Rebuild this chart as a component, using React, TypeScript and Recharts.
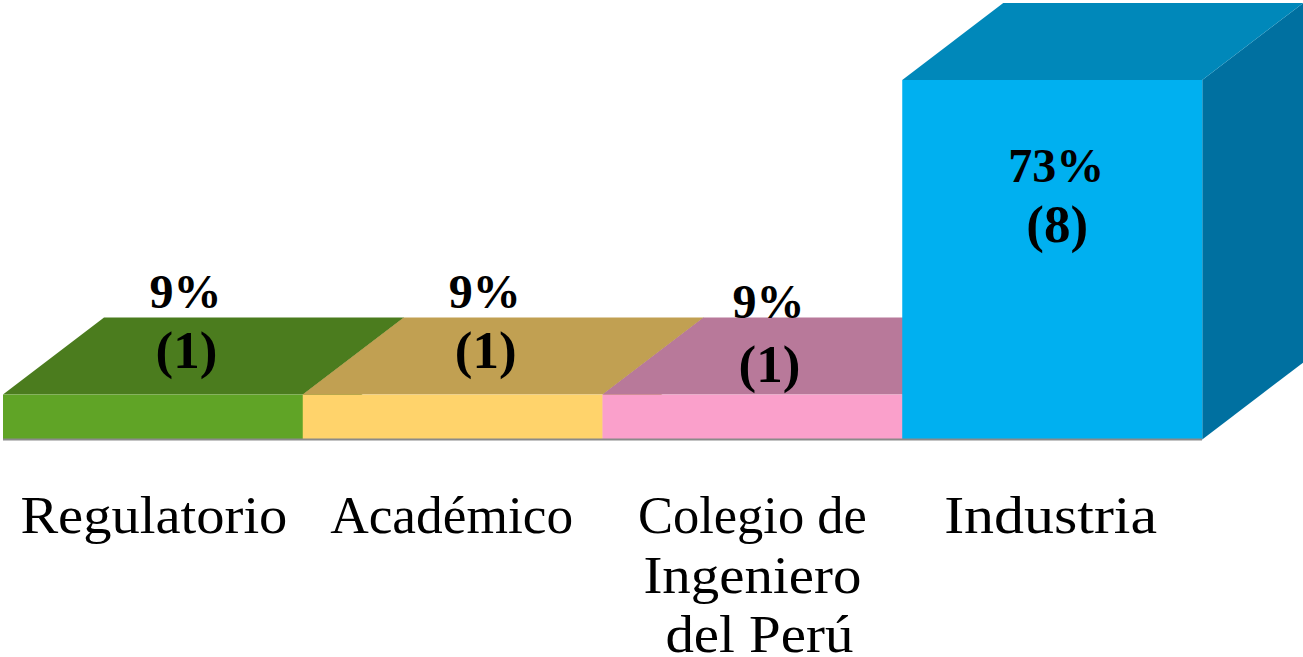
import React from "react";
import { BarChart, Bar, XAxis, YAxis, Cell, LabelList } from "recharts";

const categories = ["Regulatorio", "Académico", "Colegio de\nIngeniero\ndel Perú", "Industria"];
const counts = [1, 1, 1, 8];
const percents = ["9%", "9%", "9%", "73%"];
const frontColors = ["#60A426", "#FFD36B", "#FAA0CB", "#00B0F0"];
const topColors = ["#4B7C1E", "#C1A052", "#B8799A", "#0088BA"];
const sideColors = ["#3F6A18", "#A58A45", "#9C6783", "#0070A0"];

const rows = categories.map((name, i) => ({
  name,
  count: counts[i],
  percent: percents[i],
}));

const DX = 101;
const DY = 77;
const FONT = "'Liberation Serif', serif";
const labelLayout = [
  { pctX: 32.5, cntX: 33.5, pct: 308, cnt: 368 },
  { pctX: 32, cntX: 33, pct: 308, cnt: 368 },
  { pctX: 16, cntX: 17, pct: 318, cnt: 382 },
  { pctX: 4, cntX: 5, pct: 182, cnt: 242 },
];
const tickLayout: Record<string, { dx: number; w: number }> = {
  Regulatorio: { dx: 1, w: 267 },
  "Académico": { dx: -1, w: 243 },
  "Colegio de": { dx: 0, w: 229 },
  Ingeniero: { dx: 0, w: 218 },
  "del Perú": { dx: 7, w: 188 },
  Industria: { dx: -1.5, w: 213 },
};

function Box3D(props: any) {
  const { x, y, width, height, index } = props;
  const r = x + width;
  const b = y + height;
  return (
    <g>
      <polygon points={`${r},${y} ${r + DX},${y - DY} ${r + DX},${b - DY} ${r},${b}`} fill={sideColors[index]} />
      <polygon points={`${x},${y} ${x + DX},${y - DY} ${r + DX},${y - DY} ${r},${y}`} fill={topColors[index]} />
      <rect x={x} y={y} width={width} height={height} fill={frontColors[index]} />
    </g>
  );
}

function ValueLabel(props: any) {
  const { x, width, index } = props;
  const n = labelLayout[index];
  const cx = x + width / 2;
  return (
    <g fontFamily={FONT} fontWeight="bold" fill="#000" textAnchor="middle">
      <text x={cx + n.pctX} y={n.pct} fontSize={48}>{percents[index]}</text>
      <text x={cx + n.cntX} y={n.cnt} fontSize={53}>({counts[index]})</text>
    </g>
  );
}

function CategoryTick(props: any) {
  const { x, payload } = props;
  const lines = String(payload.value).split("\n");
  return (
    <g fontFamily={FONT} fontSize={53} fill="#000" textAnchor="middle">
      {lines.map((line: string, i: number) => (
        <text
          key={line}
          x={x + tickLayout[line].dx}
          y={533 + i * 59.5}
          textLength={tickLayout[line].w}
          lengthAdjust="spacingAndGlyphs"
        >
          {line}
        </text>
      ))}
    </g>
  );
}

export default function App() {
  return (
    <div style={{ position: "absolute", left: 0, top: 0, width: 1303, height: 657, background: "#fff" }}>
      <BarChart
        width={1303}
        height={657}
        data={rows}
        barCategoryGap={0}
        margin={{ top: 80, right: 101, bottom: 0, left: 3 }}
      >
        <XAxis
          dataKey="name"
          interval={0}
          height={217.5}
          tickLine={false}
          axisLine={{ stroke: "#8A8A8A", strokeWidth: 2 }}
          tick={<CategoryTick />}
        />
        <YAxis hide domain={[0, 8]} />
        <Bar dataKey="count" isAnimationActive={false} shape={<Box3D />}>
          {rows.map((r, i) => (
            <Cell key={r.name} fill={frontColors[i]} />
          ))}
          <LabelList dataKey="percent" content={<ValueLabel />} />
        </Bar>
      </BarChart>
    </div>
  );
}
